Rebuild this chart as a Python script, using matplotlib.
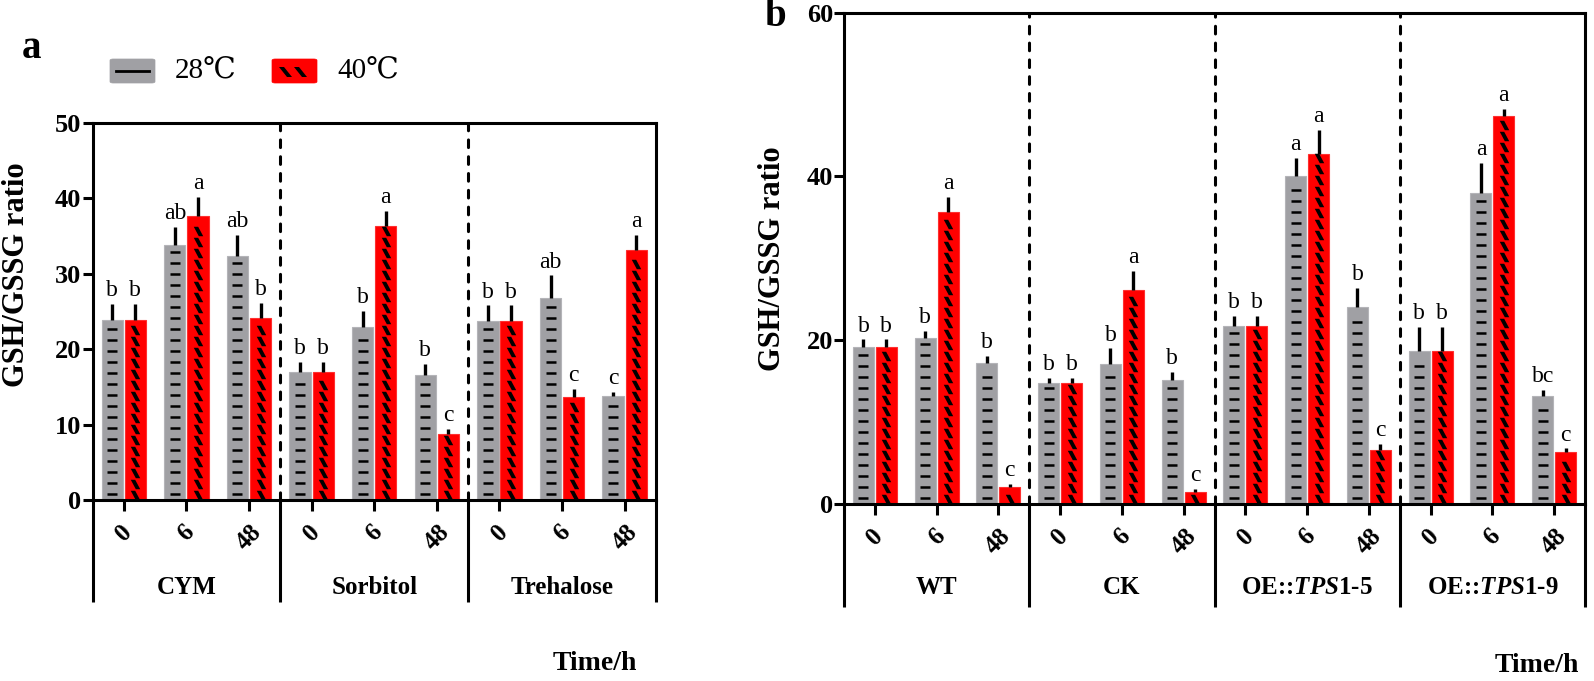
import numpy as np
import matplotlib
matplotlib.use('Agg')
import matplotlib.pyplot as plt
from matplotlib.patches import FancyBboxPatch, Polygon
from matplotlib.path import Path
import matplotlib.transforms as mtransforms

# ---------------- data ----------------
times = ['0', '6', '48']

groups_a = ['CYM', 'Sorbitol', 'Trehalose']
a_28 = [23.9, 33.8, 32.4, 17.0, 22.9, 16.6, 23.7, 26.8, 13.8]
a_28_err = [2.1, 2.4, 2.8, 1.3, 2.2, 1.5, 2.1, 3.0, 0.5]
a_40 = [23.9, 37.6, 24.2, 17.0, 36.4, 8.8, 23.7, 13.6, 33.1]
a_40_err = [2.1, 2.6, 1.9, 1.3, 1.9, 0.6, 2.1, 1.1, 2.1]
a_28_sig = ['b', 'ab', 'ab', 'b', 'b', 'b', 'b', 'ab', 'c']
a_40_sig = ['b', 'a', 'b', 'b', 'a', 'c', 'b', 'c', 'a']
a_yticks = [0, 10, 20, 30, 40, 50]

groups_b = ['WT', 'CK', r'OE::$\mathit{TPS1}$-5', r'OE::$\mathit{TPS1}$-9']
b_28 = [19.2, 20.3, 17.2, 14.8, 17.1, 15.2, 21.7, 40.1, 24.1, 18.7, 38.0, 13.2]
b_28_err = [0.9, 0.8, 0.9, 0.6, 1.9, 0.9, 1.3, 2.2, 2.3, 2.9, 3.7, 0.7]
b_40 = [19.2, 35.7, 2.1, 14.8, 26.1, 1.5, 21.7, 42.8, 6.6, 18.7, 47.4, 6.4]
b_40_err = [0.9, 1.8, 0.4, 0.6, 2.4, 0.3, 1.3, 2.9, 0.7, 2.9, 0.9, 0.4]
b_28_sig = ['b', 'b', 'b', 'b', 'b', 'b', 'b', 'a', 'b', 'b', 'a', 'bc']
b_40_sig = ['b', 'a', 'c', 'b', 'a', 'c', 'b', 'a', 'c', 'b', 'a', 'c']
b_yticks = [0, 20, 40, 60]

legend_labels = ['28\u2103', '40\u2103']
ylabel = 'GSH/GSSG ratio'
xlabel = 'Time/h'

# ---------------- style ----------------
plt.rcParams['font.family'] = ['Liberation Serif', 'DejaVu Serif', 'DejaVu Sans']
plt.rcParams['mathtext.fontset'] = 'custom'
plt.rcParams['mathtext.rm'] = 'Liberation Serif:bold'
plt.rcParams['mathtext.it'] = 'Liberation Serif:italic:bold'
plt.rcParams['mathtext.bf'] = 'Liberation Serif:bold'

GRAY = '#a0a0a4'
RED = '#ff0000'
LW = 2.2

W, H = 1594, 681
fig = plt.figure(figsize=(W / 100, H / 100), dpi=100)


def px_rect(l, t, r, b):
    return [l / W, 1 - b / H, (r - l) / W, (b - t) / H]


stripe_verts = [(-4.5, 4.5), (-0.3, 4.5), (4.5, -4.5), (0.3, -4.5), (-4.5, 4.5)]
stripe_marker = Path(stripe_verts, [Path.MOVETO, Path.LINETO, Path.LINETO, Path.LINETO, Path.CLOSEPOLY])


def marks_in_bar(ax, xc, h, step=11, off_bot=6, off_top=5):
    tr = ax.transData
    xd, y0 = tr.transform((xc, 0))
    _, y1 = tr.transform((xc, h))
    ys = np.arange(y0 + off_bot, y1 - off_top, step)
    if len(ys) == 0:
        return np.array([]), np.array([])
    d = tr.inverted().transform(np.column_stack([np.full_like(ys, xd), ys]))
    return d[:, 0], d[:, 1]


def draw_panel(ax, v28, e28, v40, e40, s28, s40, groups, yticks, ymax, sep_bottom, grp_y):
    n = len(v28)
    x = np.arange(n)
    off, bw = 0.185, 0.34
    ax.set_xlim(-0.5, n - 0.5)
    ax.set_ylim(0, ymax)
    ax.bar(x - off, v28, width=bw, color=GRAY, edgecolor='#b4b4b8', linewidth=0.8, zorder=2)
    ax.bar(x + off, v40, width=bw, color=RED, edgecolor='#ff3030', linewidth=0.8, zorder=2)
    ax.errorbar(x - off, v28, yerr=[np.zeros(n), e28], fmt='none', ecolor='k',
                elinewidth=2.4, capsize=0, zorder=3)
    ax.errorbar(x + off, v40, yerr=[np.zeros(n), e40], fmt='none', ecolor='k',
                elinewidth=2.4, capsize=0, zorder=3)
    # fill patterns
    for i in range(n):
        mx, my = marks_in_bar(ax, x[i] - off, v28[i])
        ax.plot(mx, my, ls='none', marker='_', ms=7.2, mew=1.8, color='k', zorder=2.5)
        mx, my = marks_in_bar(ax, x[i] + off, v40[i], off_bot=5, off_top=4)
        ax.plot(mx, my, ls='none', marker=stripe_marker, ms=6.8, mew=0, color='k', zorder=2.5)
    # significance letters
    for i in range(n):
        ax.annotate(s28[i], (x[i] - off, v28[i] + e28[i]), xytext=(0, 2), textcoords='offset points',
                    ha='center', va='bottom', fontsize=17, zorder=4)
        ax.annotate(s40[i], (x[i] + off, v40[i] + e40[i]), xytext=(0, 2), textcoords='offset points',
                    ha='center', va='bottom', fontsize=17, zorder=4)
    # dashed group separators
    ng = n // 3
    blend = mtransforms.blended_transform_factory(ax.transData, ax.transAxes)
    for g in range(1, ng):
        ax.plot([3 * g - 0.5, 3 * g - 0.5], [0, 1], transform=blend, color='k', lw=LW,
                dashes=(2.5, 3), dash_capstyle='round', zorder=1)
    # separators below the axis
    for g in range(ng + 1):
        ax.plot([3 * g - 0.5, 3 * g - 0.5], [0, sep_bottom], transform=blend, color='k', lw=LW,
                clip_on=False, solid_capstyle='butt')
    for g in range(ng):
        ax.text(3 * g + 1, grp_y, groups[g], transform=blend, ha='center', va='center',
                fontsize=18, fontweight='bold')
    # axes styling
    for sp in ax.spines.values():
        sp.set_linewidth(LW)
    ax.set_xticks(x)
    ax.set_xticklabels(times * ng, rotation=45, fontsize=18, fontweight='bold')
    ax.tick_params(axis='x', direction='out', length=8, width=LW, pad=7)
    ax.set_yticks(yticks)
    ax.set_yticklabels([str(t) for t in yticks], fontsize=19, fontweight='bold')
    ax.tick_params(axis='y', direction='out', length=7, width=LW, pad=1)


ax_a = fig.add_axes(px_rect(92.5, 123, 656, 500))
draw_panel(ax_a, a_28, a_28_err, a_40, a_40_err, a_28_sig, a_40_sig, groups_a, a_yticks, 50,
           -(602 - 500) / 377, -(587 - 500) / 377)

ax_b = fig.add_axes(px_rect(844, 12.7, 1585, 504))
draw_panel(ax_b, b_28, b_28_err, b_40, b_40_err, b_28_sig, b_40_sig, groups_b, b_yticks, 60,
           -(607 - 504) / 491.3, -(587 - 504) / 491.3)

# axis labels
fig.text(17 / W, 1 - 275 / H, ylabel, rotation=90, ha='center', va='center', fontsize=22, fontweight='bold')
fig.text(773 / W, 1 - 259 / H, ylabel, rotation=90, ha='center', va='center', fontsize=22, fontweight='bold')
fig.text(637 / W, 1 - 663 / H, xlabel, ha='right', va='center', fontsize=20, fontweight='bold')
fig.text(1579 / W, 1 - 665 / H, xlabel, ha='right', va='center', fontsize=20, fontweight='bold')

# panel letters
fig.text(22 / W, 1 - 48 / H, 'a', ha='left', va='center', fontsize=28, fontweight='bold')
fig.text(764 / W, 1 - 17 / H, 'b', ha='left', va='center', fontsize=28, fontweight='bold')


# legend (figure-level)
def fig_xy(px, py):
    return (px / W, 1 - py / H)


def patch_box(l, t, r, b, color):
    p = FancyBboxPatch(fig_xy(l, b), (r - l) / W, (b - t) / H,
                       boxstyle='round,pad=0,rounding_size=0.002', transform=fig.transFigure,
                       facecolor=color, edgecolor=color, linewidth=0.5)
    fig.patches.append(p)


patch_box(110, 59, 155, 83, GRAY)
fig.lines.append(plt.Line2D([116 / W, 149 / W], [1 - 71 / H, 1 - 71 / H], transform=fig.transFigure,
                            color='k', lw=2.0))
patch_box(272, 59, 317, 83, RED)
for sx in (279, 294):
    verts = [fig_xy(sx, 67), fig_xy(sx + 5, 67), fig_xy(sx + 13, 77), fig_xy(sx + 8, 77)]
    fig.patches.append(Polygon(verts, closed=True, transform=fig.transFigure, facecolor='k', edgecolor='none'))
fig.text(175 / W, 1 - 71 / H, legend_labels[0], ha='left', va='center', fontsize=21)
fig.text(337 / W, 1 - 71 / H, legend_labels[1], ha='left', va='center', fontsize=21)

fig.savefig('out.png', dpi=100)
